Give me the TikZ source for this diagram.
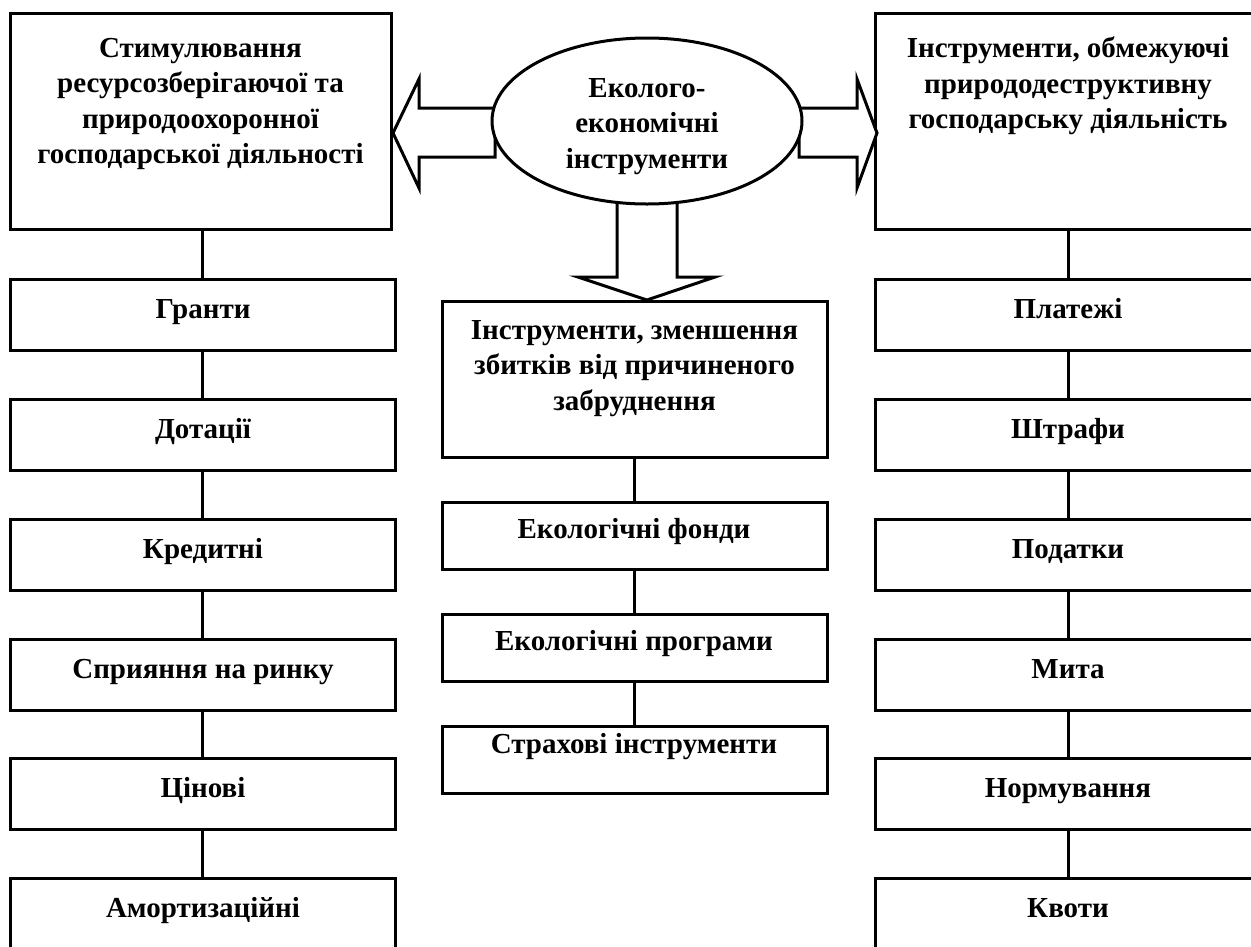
\documentclass[tikz,border=0pt]{standalone}
\usepackage{fontspec}
\setmainfont{Liberation Serif}
\usetikzlibrary{shapes.geometric,calc}
\newcommand{\boxat}[5]{\node[box, minimum width={(#4-#2)*1pt}, minimum height={(#5-#3)*1pt}] (#1) at ({(#2+#4)/2},{(#3+#5)/2}) {};}
\begin{document}
\begin{tikzpicture}[x=1pt,y=-1pt,
  box/.style={draw, line width=3pt, rectangle, inner sep=0pt, outer sep=0pt, fill=white},
  lbl/.style={font=\bfseries\fontsize{29}{35.5}\selectfont, align=center, inner sep=0pt},
  conn/.style={line width=3pt},
  bigarrow/.style={draw, line width=3pt, fill=white, line join=miter}]
\clip (0,0) rectangle (1251,946);
\fill[white] (0,0) rectangle (1251,946);

% ---------- left column ----------
\boxat{L0}{10}{13}{391}{229}
\boxat{L1}{10}{279}{395}{350}
\boxat{L2}{10}{399}{395}{470}
\boxat{L3}{10}{519}{395}{590}
\boxat{L4}{10}{639}{395}{710}
\boxat{L5}{10}{758}{395}{829}
\boxat{L6}{10}{878}{395}{980}

% ---------- right column ----------
\boxat{R0}{875}{13}{1261}{229}
\boxat{R1}{875}{279}{1261}{350}
\boxat{R2}{875}{399}{1261}{470}
\boxat{R3}{875}{519}{1261}{590}
\boxat{R4}{875}{639}{1261}{710}
\boxat{R5}{875}{758}{1261}{829}
\boxat{R6}{875}{878}{1261}{980}

% ---------- middle column ----------
\boxat{M0}{442}{301}{827}{457}
\boxat{M1}{442}{502}{827}{569}
\boxat{M2}{442}{614}{827}{681}
\boxat{M3}{442}{726}{827}{793}

% ---------- connectors ----------
\foreach \a/\b in {L0/L1,L1/L2,L2/L3,L3/L4,L4/L5,L5/L6,
                   R0/R1,R1/R2,R2/R3,R3/R4,R4/R5,R5/R6,
                   M0/M1,M1/M2,M2/M3}
  \draw[conn] (\b.north |- \a.south) -- (\b.north);

% ---------- block arrows ----------
\coordinate (ltip) at (393,133);
\coordinate (rtip) at (877,133);
\coordinate (dtip) at (647,300);
\draw[bigarrow] (495,108) -- (419,108) -- (419,79) -- (ltip) -- (419,188) -- (419,157) -- (495,157) -- cycle;
\draw[bigarrow] (799,108) -- (857,108) -- (857,79) -- (rtip) -- (857,188) -- (857,157) -- (799,157) -- cycle;
\draw[bigarrow] (617,190) -- (617,277) -- (578,277) -- (dtip) -- (715,277) -- (677,277) -- (677,190) -- cycle;

% ---------- ellipse ----------
\node[draw, line width=3pt, ellipse, fill=white, minimum width=310pt, minimum height=166pt, inner sep=0pt] (E) at (647,121) {};
\node[lbl, anchor=north] (Et) at (647,78) {Еколого-\\економічні\\інструменти};

% ---------- texts ----------
\node[lbl, anchor=north] (L0t) at (L0.north |- 0,38) {Стимулювання\\ресурсозберігаючої та\\природоохоронної\\господарської діяльності};
\node[lbl, anchor=north] (R0t) at (1068,37) {Інструменти, обмежуючі\\природодеструктивну\\господарську діяльність};
\node[lbl, anchor=north] (M0t) at (M0.north |- 0,320) {Інструменти, зменшення\\збитків від причиненого\\забруднення};

\node[lbl, anchor=base] (L1t) at (203,318) {Гранти};
\node[lbl, anchor=base] (L2t) at (203,438) {Дотації};
\node[lbl, anchor=base] (L3t) at (203,558) {Кредитні};
\node[lbl, anchor=base] (L4t) at (203,678) {Сприяння на ринку};
\node[lbl, anchor=base] (L5t) at (203,797) {Цінові};
\node[lbl, anchor=base] (L6t) at (203,917) {Амортизаційні};

\node[lbl, anchor=base] (R1t) at (1068,318) {Платежі};
\node[lbl, anchor=base] (R2t) at (1068,438) {Штрафи};
\node[lbl, anchor=base] (R3t) at (1068,558) {Податки};
\node[lbl, anchor=base] (R4t) at (1068,678) {Мита};
\node[lbl, anchor=base] (R5t) at (1068,797) {Нормування};
\node[lbl, anchor=base] (R6t) at (1068,917) {Квоти};

\node[lbl, anchor=base] (M1t) at (634,538) {Екологічні фонди};
\node[lbl, anchor=base] (M2t) at (634,650) {Екологічні програми};
\node[lbl, anchor=base] (M3t) at (634,753) {Страхові інструменти};
\end{tikzpicture}
\end{document}
